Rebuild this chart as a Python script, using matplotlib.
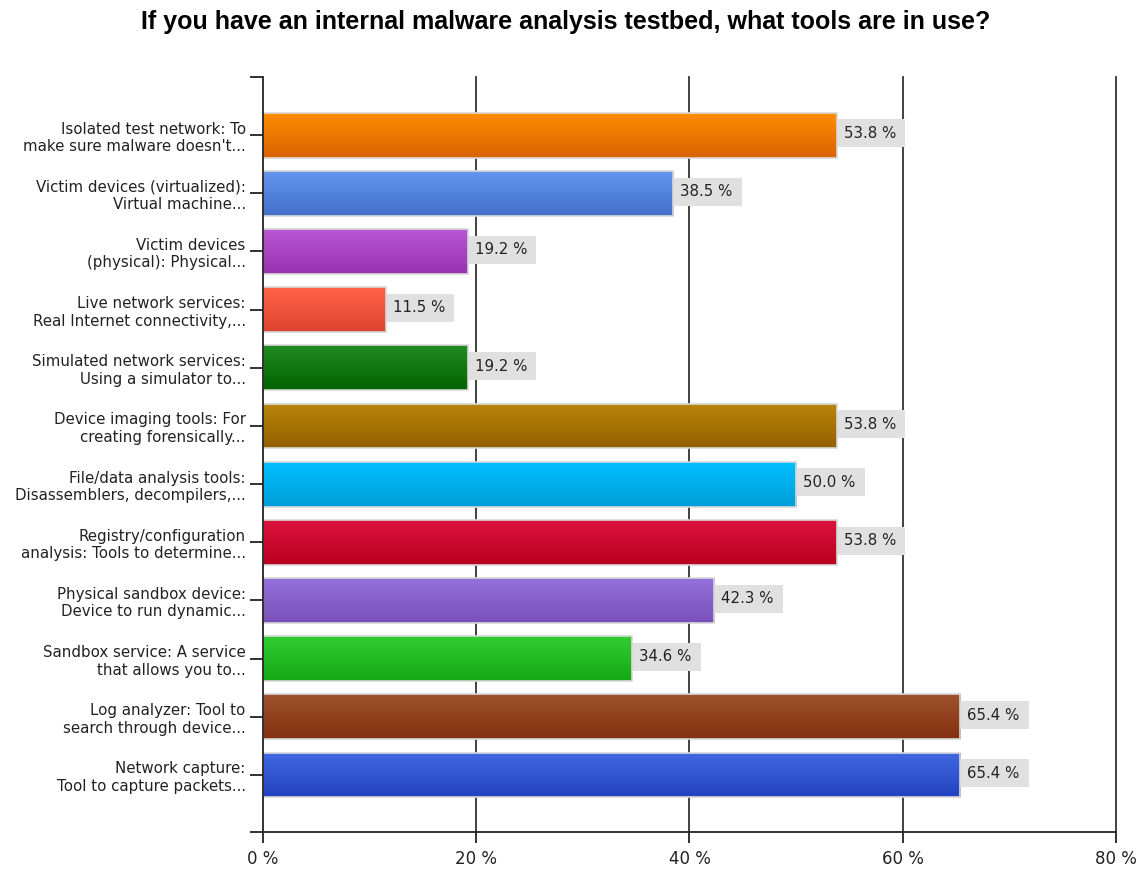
import numpy as np
import matplotlib
matplotlib.use("Agg")
import matplotlib.pyplot as plt
from matplotlib.colors import to_rgb
from matplotlib.patches import Rectangle

title = "If you have an internal malware analysis testbed, what tools are in use?"
categories = [
    "Isolated test network: To\nmake sure malware doesn't...",
    "Victim devices (virtualized):\nVirtual machine...",
    "Victim devices\n(physical): Physical...",
    "Live network services:\nReal Internet connectivity,...",
    "Simulated network services:\nUsing a simulator to...",
    "Device imaging tools: For\ncreating forensically...",
    "File/data analysis tools:\nDisassemblers, decompilers,...",
    "Registry/configuration\nanalysis: Tools to determine...",
    "Physical sandbox device:\nDevice to run dynamic...",
    "Sandbox service: A service\nthat allows you to...",
    "Log analyzer: Tool to\nsearch through device...",
    "Network capture:\nTool to capture packets...",
]
values = [53.8, 38.5, 19.2, 11.5, 19.2, 53.8, 50.0, 53.8, 42.3, 34.6, 65.4, 65.4]
top_colors = ["#ff8c00", "#6495ed", "#ba55d3", "#ff6347", "#228b22", "#b8860b",
              "#00bfff", "#dc143c", "#9370db", "#32cd32", "#a0522d", "#4169e1"]
bottom_colors = ["#d96200", "#4470c8", "#9932b0", "#dd4430", "#006400", "#946000",
                 "#009ed8", "#b80020", "#7a50b8", "#16a816", "#823010", "#2242c0"]
xticks = [0, 20, 40, 60, 80]
xticklabels = ["0 %", "20 %", "40 %", "60 %", "80 %"]

fig = plt.figure(figsize=(11.39, 8.69), dpi=100)
ax = fig.add_axes([0.2309, 0.0426, 0.9798 - 0.2309, 0.9114 - 0.0426])

pos = np.arange(len(values))
bh = 0.77
bars = ax.barh(pos, values, height=bh, color="none", edgecolor="#d8d8d8",
               linewidth=1.2, zorder=3)
for b, tc, bc in zip(bars, top_colors, bottom_colors):
    t = np.array(to_rgb(tc)); bcol = np.array(to_rgb(bc))
    f = np.linspace(0, 1, 64)[:, None]
    grad = (t * (1 - f) + bcol * f)[:, None, :]
    x0, y0 = b.get_x(), b.get_y()
    w, h = b.get_width(), b.get_height()
    im = ax.imshow(grad, extent=[x0, x0 + w, y0 + h, y0], aspect="auto",
                   origin="upper", zorder=2.5, interpolation="bilinear")
    im.set_clip_path(b)

for p, v in zip(pos, values):
    ax.add_patch(Rectangle((v, p - 0.27), 6.45, 0.48, facecolor="#e0e0e0",
                           edgecolor="none", zorder=2.8))
    ax.text(v + 0.65, p - 0.03, f"{v:.1f} %", va="center", ha="left",
            fontsize=10.8, color="#222222", zorder=4)

ax.set_xlim(0, 80)
ax.set_ylim(11.98, -1)
for x in xticks[1:]:
    ax.axvline(x, color="#333333", linewidth=1.3, zorder=1, clip_on=False)
ax.set_xticks(xticks)
ax.set_xticklabels(xticklabels, fontsize=12, color="#222222")
ax.set_yticks(pos)
ax.set_yticklabels(categories, fontsize=10.8, color="#222222")
ax.set_yticks([-1, 11.98], minor=True)
ax.tick_params(axis="y", which="both", length=9.5, width=1.3, color="#222222", pad=3)
ax.tick_params(axis="x", length=8, width=1.3, color="#222222", pad=5)
for s in ["top", "right"]:
    ax.spines[s].set_visible(False)
for s in ["left", "bottom"]:
    ax.spines[s].set_color("#222222")
    ax.spines[s].set_linewidth(1.3)
ax.spines["left"].set_zorder(5)

fig.text(0.497, 0.975, title, ha="center", va="center", fontsize=18,
         fontweight="bold", family="Liberation Sans")

fig.savefig("out.png", dpi=100)
